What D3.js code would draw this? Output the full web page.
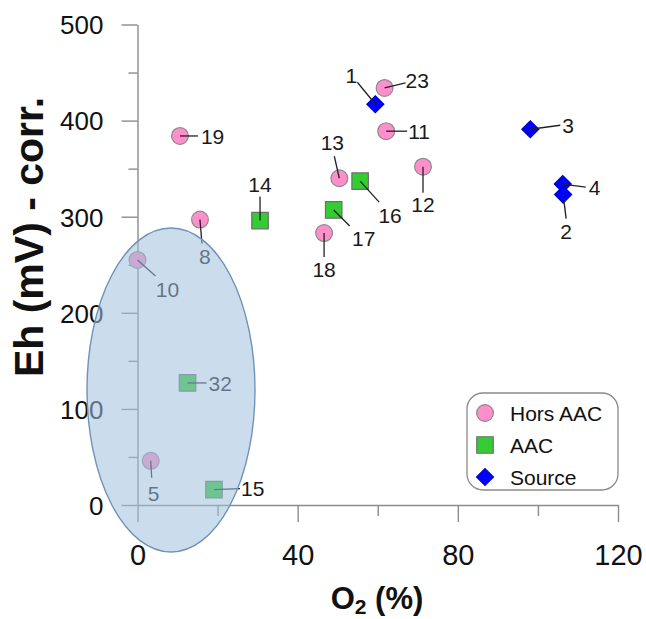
<!DOCTYPE html>
<html><head><meta charset="utf-8">
<script src="https://cdn.jsdelivr.net/npm/d3@7"></script>
<style>
html,body{margin:0;padding:0;background:#fff;}
text{font-family:"Liberation Sans",Arial,sans-serif;}
</style></head>
<body><svg id="c" width="646" height="619"></svg>
<script>
// ---- data ----
const seriesNames = ["Hors AAC", "AAC", "Source"];
const horsIds = ["19", "8", "10", "5", "18", "13", "23", "11", "12"];
const horsO2  = [10.6, 15.6, 0.0, 3.3, 46.6, 50.4, 61.7, 62.1, 71.3];
const horsEh  = [384, 297, 255, 46, 283, 340, 434, 389, 352];
const aacIds  = ["14", "17", "16", "32", "15"];
const aacO2   = [30.6, 49.0, 55.6, 12.5, 19.1];
const aacEh   = [296, 307, 337, 127, 16];
const srcIds  = ["1", "3", "4", "2"];
const srcO2   = [59.4, 98.1, 106.2, 106.3];
const srcEh   = [417, 391, 334, 323];
const xTicks = [0, 40, 80, 120];
const xMinor = [20, 60, 100];
const yTicks = [0, 100, 200, 300, 400, 500];
const yMinor = [50, 150, 250, 350, 450];

// ---- layout of label leaders: [lineDx, lineDy, textDx, textDy, anchor] ----
const leader = {
  "19": [18, 0, 21, 0, "start"], "8": [2, 24, 5, 37, "middle"], "10": [18, 16, 30, 29, "middle"],
  "5": [1, 17, 3, 33, "middle"], "32": [19, 0, 21, 0, "start"], "15": [26, -1, 27, -1, "start"],
  "14": [0, -24, 0, -36, "middle"], "18": [0, 24, 0, 36, "middle"], "13": [-5, -22, -7, -36, "middle"],
  "16": [19, 21, 30, 34, "middle"], "17": [16, 16, 30, 28, "middle"], "12": [0, 26, 0, 38, "middle"],
  "11": [21, 0, 22, 0, "start"], "23": [21, -5, 21, -7, "start"], "1": [-18, -22, -24, -29, "middle"],
  "3": [30, -4, 32, -4, "start"], "4": [23, 3, 26, 3, "start"], "2": [3, 24, 3, 37, "middle"]
};

const styles = [
  {fill: "#ff8fcb", stroke: "#8a8a8a", sym: "circle"},
  {fill: "#33cc33", stroke: "#6e6e6e", sym: "square"},
  {fill: "#0000ff", stroke: "#0000cc", sym: "diamond"}
];

const series = [
  {name: seriesNames[0], ids: horsIds, xs: horsO2, ys: horsEh},
  {name: seriesNames[1], ids: aacIds, xs: aacO2, ys: aacEh},
  {name: seriesNames[2], ids: srcIds, xs: srcO2, ys: srcEh}
];

const FONT = "Liberation Sans, Arial, sans-serif";
const svg = d3.select("#c");
const x = d3.scaleLinear().domain([0, 120]).range([137.5, 618]);
const y = d3.scaleLinear().domain([0, 500]).range([505, 24.5]);
const axisCol = "#8c8c8c";

// axes
const gx = svg.append("g").attr("transform", "translate(0,505)")
  .call(d3.axisBottom(x).tickValues(xTicks).tickSize(17).tickSizeOuter(0).tickPadding(22).tickFormat(d3.format("d")));
const gxm = svg.append("g").attr("transform", "translate(0,505)")
  .call(d3.axisBottom(x).tickValues(xMinor).tickSize(11).tickFormat(""));
gxm.select(".domain").remove();
const gy = svg.append("g").attr("transform", "translate(137.5,0)")
  .call(d3.axisLeft(y).tickValues(yTicks).tickSize(16).tickSizeOuter(0).tickPadding(18).tickFormat(d3.format("d")));
const gym = svg.append("g").attr("transform", "translate(137.5,0)")
  .call(d3.axisLeft(y).tickValues(yMinor).tickSize(9).tickFormat(""));
gym.select(".domain").remove();
[gx, gxm, gy, gym].forEach(g => {
  g.selectAll("path,line").attr("stroke", axisCol).attr("stroke-width", 1.4);
});
gx.selectAll("text").attr("font-size", 29).attr("fill", "#111").attr("font-family", FONT);
gy.selectAll("text").attr("font-size", 26).attr("fill", "#111").attr("font-family", FONT).attr("dy", "0.36em");

// axis titles
svg.append("text").attr("transform", "translate(43,237) rotate(-90)")
  .attr("text-anchor", "middle").attr("font-size", 41).attr("font-weight", "bold").attr("fill", "#111")
  .text("Eh (mV) - corr.");
const xt = svg.append("text").attr("x", 377).attr("y", 609).attr("text-anchor", "middle")
  .attr("font-size", 31).attr("font-weight", "bold").attr("fill", "#111");
xt.append("tspan").text("O");
xt.append("tspan").attr("font-size", 21).attr("dy", 5).text("2");
xt.append("tspan").attr("dy", -5).text(" (%)");

function symPath(sym) {
  if (sym === "circle") return d3.symbol(d3.symbolCircle, Math.PI * 8.4 * 8.4)();
  if (sym === "square") return d3.symbol(d3.symbolSquare, 16.5 * 16.5)();
  return d3.symbol(d3.symbolSquare, 12 * 12)();
}

const gPts = svg.append("g");
const gLbl = svg.append("g");
series.forEach((s, si) => {
  const st = styles[si];
  s.ids.forEach((id, i) => {
    const px = x(s.xs[i]), py = y(s.ys[i]);
    gPts.append("path").attr("d", symPath(st.sym))
      .attr("transform", `translate(${px},${py})` + (st.sym === "diamond" ? " rotate(45)" : ""))
      .attr("fill", st.fill).attr("stroke", st.stroke).attr("stroke-width", 1.2);
    const L = leader[id];
    gLbl.append("line").attr("x1", px).attr("y1", py).attr("x2", px + L[0]).attr("y2", py + L[1])
      .attr("stroke", "#222").attr("stroke-width", 1.3);
    gLbl.append("text").attr("x", px + L[2]).attr("y", py + L[3]).attr("dy", "0.36em")
      .attr("text-anchor", L[4]).attr("font-size", 21).attr("fill", "#1a1a1a").text(id);
  });
});

// shaded ellipse (drawn on top)
svg.append("ellipse").attr("cx", 171).attr("cy", 390).attr("rx", 84).attr("ry", 162)
  .attr("fill", "rgb(160,192,223)").attr("fill-opacity", 0.55)
  .attr("stroke", "#6f93b8").attr("stroke-width", 1.4);

// legend
const lg = svg.append("g");
lg.append("rect").attr("x", 467).attr("y", 393).attr("width", 151).attr("height", 97)
  .attr("rx", 16).attr("fill", "#fff").attr("stroke", "#8a8a8a").attr("stroke-width", 1.3);
series.forEach((s, si) => {
  const st = styles[si];
  const ly = 413 + si * 32;
  lg.append("path").attr("d", symPath(st.sym))
    .attr("transform", `translate(485,${ly})` + (st.sym === "diamond" ? " rotate(45)" : ""))
    .attr("fill", st.fill).attr("stroke", st.stroke).attr("stroke-width", 1.2);
  lg.append("text").attr("x", 510).attr("y", ly).attr("dy", "0.36em")
    .attr("font-size", 21).attr("fill", "#111").text(s.name);
});
</script></body></html>
